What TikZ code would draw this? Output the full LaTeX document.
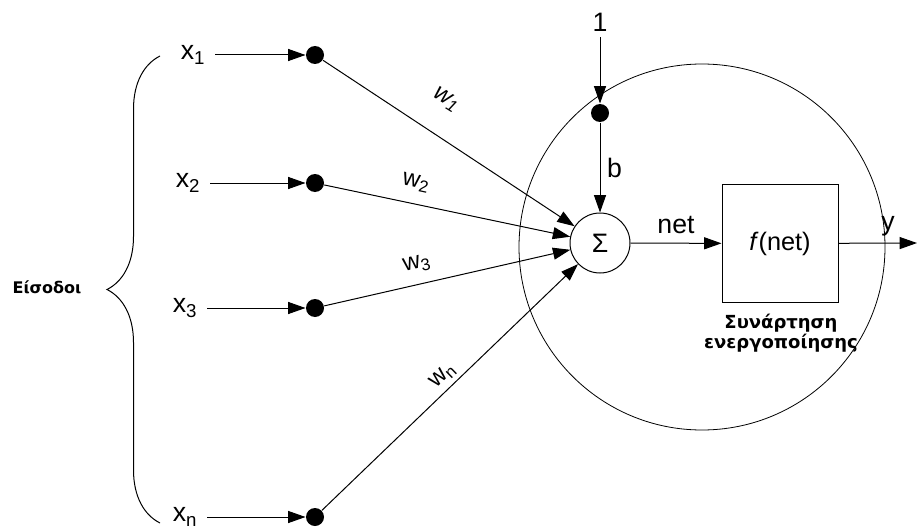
\documentclass[tikz,border=0pt]{standalone}
\usepackage{fontspec}
\setmainfont{Liberation Sans}
\newfontfamily\captionfont{DejaVu Sans}
\usetikzlibrary{arrows.meta,decorations.pathreplacing}

\tikzset{every picture/.style={line width=0.75pt}}
\tikzset{
  arr/.style={-{Triangle[length=13pt,width=9pt]}},
  inlabel/.style={inner sep=7pt, font=\fontsize{20}{22}\selectfont},
  wlabel/.style={inner sep=0pt, font=\fontsize{18}{20}\selectfont},
  caption/.style={inner sep=0pt, font=\fontsize{12}{15}\selectfont\captionfont\bfseries},
  blackdot/.style={circle, fill=black, inner sep=0pt, minimum size=13.5pt},
}

\begin{document}
\begin{tikzpicture}[x=0.75pt,y=0.75pt,yscale=-1,xscale=1]
\useasboundingbox (0,0) rectangle (917,528);

%Shape: Circle (neuron body)
\node [draw, circle, line width=0.6pt, inner sep=0pt, minimum size=274.5pt] (neuron) at (702,247) {};

% Input labels
\node [inlabel] (x1) at (193,55) {x\textsubscript{1}};
\node [inlabel] (x2) at (188,183) {x\textsubscript{2}};
\node [inlabel] (x3) at (185,308) {x\textsubscript{3}};
\node [inlabel] (xn) at (185,517) {x\textsubscript{n}};

% Input dots
\node [blackdot] (d1) at (315,55) {};
\node [blackdot] (d2) at (315,183) {};
\node [blackdot] (d3) at (315,308) {};
\node [blackdot] (dn) at (315,517) {};

% Summation node
\node [draw, circle, inner sep=0pt, minimum size=45pt, font=\fontsize{20}{22}\selectfont] (sum) at (600,243) {Σ};

% Bias
\node [inlabel, inner sep=4pt] (one) at (600,22) {1};
\node [blackdot] (bd) at (600,113) {};

% Activation box
\node [draw, minimum width=87pt, minimum height=89pt, font=\fontsize{19}{21}\selectfont] (act) at (780,243.5) {\textit{f}(net)};
\node [caption, font=\fontsize{13.5}{15}\selectfont\captionfont\bfseries, align=center] (actname) at (781,333) {Συνάρτηση\\ενεργοποίησης};

\coordinate (out) at (917,243);

% Text Node
\node [caption] (inputs) at (47,287) {Είσοδοι};

%Curly brace
\draw [decorate, decoration={brace, amplitude=39.75pt}] (160,523) -- (160,56);

%Straight Lines
\draw [arr] (x1) -- (d1);
\draw [arr] (x2) -- (d2);
\draw [arr] (x3) -- (d3);
\draw [arr] (xn) -- (dn);

%Weighted connections
\draw [arr] (d1) -- (sum);
\draw [arr] (d2) -- (sum);
\draw [arr] (d3) -- (sum);
\draw [arr] (dn) -- (sum);

% Weight labels
\node [wlabel, rotate=-32] (w1) at (446,100) {\textit{w\textsubscript{1}}};
\node [wlabel, rotate=-12] (w2) at (416,183) {w\textsubscript{2}};
\node [wlabel, rotate=13] (w3) at (417,264) {w\textsubscript{3}};
\node [wlabel, rotate=44] (wn) at (443,376) {w\textsubscript{n}};

%Bias and output
\draw [arr] (one) -- (bd);
\draw [arr] (bd) -- (sum) node [inlabel, inner sep=5pt, midway, right] {b};
\draw [arr] (sum) -- (act) node [inlabel, inner sep=7pt, midway, above] {net};
\draw [arr] (act) -- (out) node [inlabel, inner sep=5pt, pos=0.63, above] {y};
\end{tikzpicture}
\end{document}
